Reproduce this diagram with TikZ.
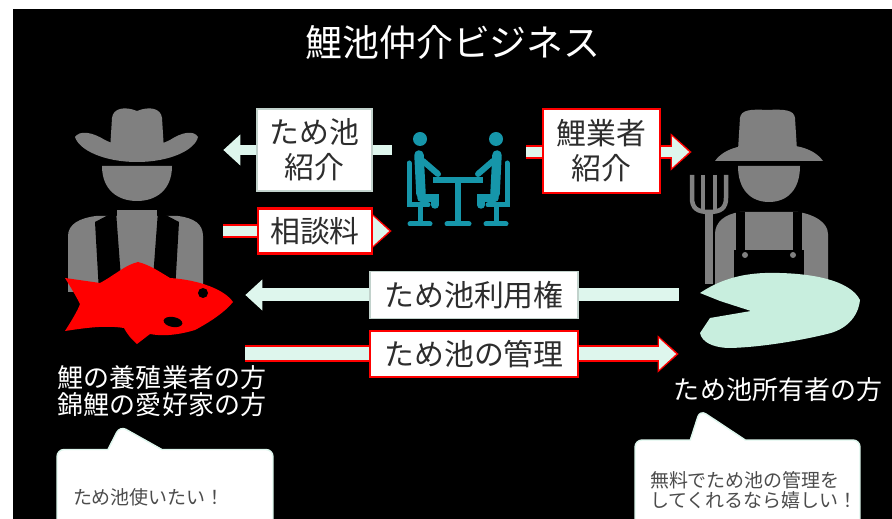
\documentclass[tikz,border=0pt]{standalone}
\usepackage{fontspec}
\setmainfont{Noto Sans CJK JP}
\usetikzlibrary{arrows.meta,shapes.callouts}

\definecolor{mint}{RGB}{222,246,237}
\definecolor{figgray}{RGB}{128,128,128}
\definecolor{meetteal}{RGB}{22,150,170}
\definecolor{pondgreen}{RGB}{200,238,222}
\definecolor{boxtext}{RGB}{45,45,45}

\tikzset{
  zone/.style={inner sep=0pt},
  deal/.style={fill=white, draw=mint!70!gray, line width=0.6pt, text=boxtext,
    inner sep=0pt, align=center, font=\fontsize{17}{20}\selectfont},
  dealred/.style={deal, draw=red, line width=1.3pt},
  flow/.style={draw=mint, line width=0.2cm, -{Triangle[width=0.6cm,length=0.34cm]}},
  flowred/.style={draw=red, line width=0.28cm, -{Triangle[width=0.72cm,length=0.42cm]}},
  wide/.style={line width=0.26cm},
  who/.style={text=white, align=center, font=\fontsize{14.8}{15.5}\selectfont},
  bubble/.style={rectangle callout, fill=white, draw=mint, line width=0.8pt,
    rounded corners=0.14cm, text=black!70, align=left, inner ysep=0pt,
    font=\fontsize{10.8}{11.4}\selectfont},
}

\begin{document}
\begin{tikzpicture}[x=0.02cm,y=-0.02cm]
\useasboundingbox (0,0) rectangle (892,519);
\clip (0,0) rectangle (892,519);
\fill[white] (0,0) rectangle (892,519);
\fill[black] (13,9) rectangle (892,519);

\node[text=white, font=\fontsize{21}{24}\selectfont] (heading) at (453,42) {鯉池仲介ビジネス};

% places the arrows run between
\node[zone, minimum width=3.26cm, minimum height=3.7cm] (breeder) at (141.5,197.5) {};
\node[zone, minimum width=3.64cm, minimum height=1.64cm] (carp) at (154,303) {};
\node[zone, minimum width=2.68cm, minimum height=2cm] (meet) at (459,180) {};
\node[zone, minimum width=2.76cm, minimum height=3.54cm] (farmer) at (761,196.5) {};
\node[zone, minimum width=3.62cm, minimum height=1.5cm] (pond) at (769.5,310) {};

% cowboy
\fill[figgray] (68,292) -- (68,236) .. controls (68,224) and (80,218) .. (96,216)
  -- (178,216) .. controls (194,218) and (203,224) .. (203,236) -- (203,292) -- cycle;
\fill[figgray] (117,210) rectangle (157,292);
\fill[black] (95,222) -- (116,211) -- (122,292) -- (99,292) -- cycle;
\fill[black] (179,222) -- (158,211) -- (152,292) -- (175,292) -- cycle;
\fill[figgray] (102,166) -- (172,166) .. controls (172,190) and (156,201) .. (137,201)
  .. controls (118,201) and (102,190) .. (102,166) -- cycle;
\fill[figgray] (110,150) -- (112,118) .. controls (113,108) and (125,106) .. (137,111)
  .. controls (149,106) and (161,108) .. (162,118) -- (164,150) -- cycle;
\fill[figgray] (75,137) .. controls (80,130) and (92,132) .. (105,140)
  .. controls (125,150) and (150,150) .. (170,140) .. controls (182,132) and (194,130) .. (198,137)
  .. controls (195,150) and (170,162) .. (137,162) .. controls (104,162) and (79,150) .. (75,137) -- cycle;

% red carp
\fill[red] (65,278) -- (100,283) .. controls (115,275) and (125,265) .. (138,262)
  .. controls (150,265) and (160,272) .. (170,278) .. controls (200,280) and (225,290) .. (233,302)
  .. controls (225,312) and (210,322) .. (195,330) .. controls (175,336) and (160,336) .. (150,334)
  -- (137,344) .. controls (130,338) and (126,332) .. (124,328)
  .. controls (105,325) and (85,328) .. (65,331) .. controls (72,320) and (78,310) .. (80,304)
  .. controls (76,296) and (70,286) .. (65,278) -- cycle;
\fill[black] (203,293) circle[radius=0.1cm];
\fill[black, rotate around={-10:(173,322)}] (173,322) ellipse[x radius=0.19cm, y radius=0.1cm];

% farmer with pitchfork
\fill[figgray] (715,290) -- (715,234) .. controls (715,222) and (725,214) .. (740,212)
  -- (798,212) .. controls (813,214) and (828,222) .. (828,234) -- (828,290) -- cycle;
\fill[black] (736,212) rectangle (745,252);
\fill[black] (793,212) rectangle (802,252);
\fill[black] (734,250) rectangle (804,290);
\foreach \bx in {745,793}
  \fill[figgray] (\bx,255) circle[radius=0.06cm];
\fill[figgray] (738,166) -- (800,166) .. controls (800,190) and (787,202) .. (769,202)
  .. controls (751,202) and (738,190) .. (738,166) -- cycle;
\fill[figgray] (738,150) -- (740,118) .. controls (741,110) and (750,109) .. (767,110)
  .. controls (785,109) and (794,110) .. (795,118) -- (797,150) -- cycle;
\fill[figgray] (715,161) .. controls (725,147) and (745,144) .. (769,144)
  .. controls (793,144) and (813,147) .. (823,161) -- cycle;
\draw[figgray, line width=0.09cm] (692,175) -- (692,198) .. controls (692,208) and (697,212) .. (709,212)
  .. controls (721,212) and (726,208) .. (726,198) -- (726,175);
\foreach \tx in {703,715}
  \draw[figgray, line width=0.09cm] (\tx,175) -- (\tx,212);
\fill[figgray] (705,210) rectangle (713,284);

% pond
\fill[pondgreen] (700,293) .. controls (715,283) and (735,274) .. (765,273)
  .. controls (810,272) and (850,280) .. (860,300) .. controls (858,318) and (845,330) .. (827,334)
  .. controls (790,343) and (750,348) .. (727,348) .. controls (712,347) and (702,342) .. (700,333)
  -- (710,318) -- (751,311) -- (720,301) -- cycle;

% meeting icon
\foreach \s in {1,-1} {
  \begin{scope}[shift={(458,0)}, xscale=\s, meetteal, line cap=round]
    \fill (-38,139) circle[radius=0.14cm];
    \draw[line width=0.19cm] (-39,155) -- (-37,194);
    \draw[line width=0.12cm] (-35,161) -- (-20,174);
    \draw[line width=0.15cm] (-37,198) -- (-23,198) -- (-23,205);
    \draw[line width=0.1cm] (-49,163) -- (-49,205) -- (-30,205);
    \draw[line width=0.1cm] (-38,205) -- (-38,223);
    \draw[line width=0.1cm] (-48,224) -- (-28,224);
  \end{scope}
}
\draw[meetteal, line width=0.12cm] (433,180) -- (483,180);
\draw[meetteal, line width=0.12cm] (458,180) -- (458,223);
\draw[meetteal, line width=0.1cm, line cap=round] (447,224) -- (469,224);

% arrows
\draw[flow] (meet.west |- 0,150) -- (breeder.east |- 0,150);
\draw[flowred] (breeder.east |- 0,231) -- (meet.west |- 0,231);
\draw[flow, shorten >=0.05cm] (breeder.east |- 0,231) -- (meet.west |- 0,231);
\draw[flowred] (meet.east |- 0,152) -- (farmer.west |- 0,152);
\draw[flow, shorten >=0.05cm] (meet.east |- 0,152) -- (farmer.west |- 0,152);
\draw[flow, wide] (pond.west |- 0,295) -- (carp.east |- 0,295);
\draw[flowred, line width=0.34cm] (carp.east |- 0,354) -- (pond.west |- 0,354);
\draw[flow, wide, shorten >=0.05cm] (carp.east |- 0,354) -- (pond.west |- 0,354);

% what changes hands
\node[deal, minimum width=2.3cm, minimum height=1.64cm] (intro) at (314.5,150) {ため池\\紹介};
\node[dealred, minimum width=2.28cm, minimum height=0.9cm] (fee) at (315,231) {相談料};
\node[dealred, minimum width=2.34cm, minimum height=1.68cm] (referral) at (601.5,151) {鯉業者\\紹介};
\node[deal, minimum width=4.16cm, minimum height=0.94cm] (usage) at (474,295) {ため池利用権};
\node[dealred, minimum width=4.16cm, minimum height=0.92cm] (care) at (474,354) {ため池の管理};

\node[who] (breederlabel) at (162,391) {鯉の養殖業者の方\\錦鯉の愛好家の方};
\node[who] (ownerlabel) at (778,390) {ため池所有者の方};

\node[bubble, minimum width=4.32cm, minimum height=1.9cm, inner xsep=0.32cm, text width=3.68cm,
  callout absolute pointer={(120,426)}, callout pointer width=1.08cm] (wish) at (165,497) {ため池使いたい！};
\node[bubble, minimum width=4.5cm, minimum height=2cm, inner xsep=0.3cm, text width=3.9cm,
  callout absolute pointer={(700,410)}, callout pointer width=1.1cm] (hope) at (747.5,490)
  {無料でため池の管理を\\してくれるなら嬉しい！};
\end{tikzpicture}
\end{document}
